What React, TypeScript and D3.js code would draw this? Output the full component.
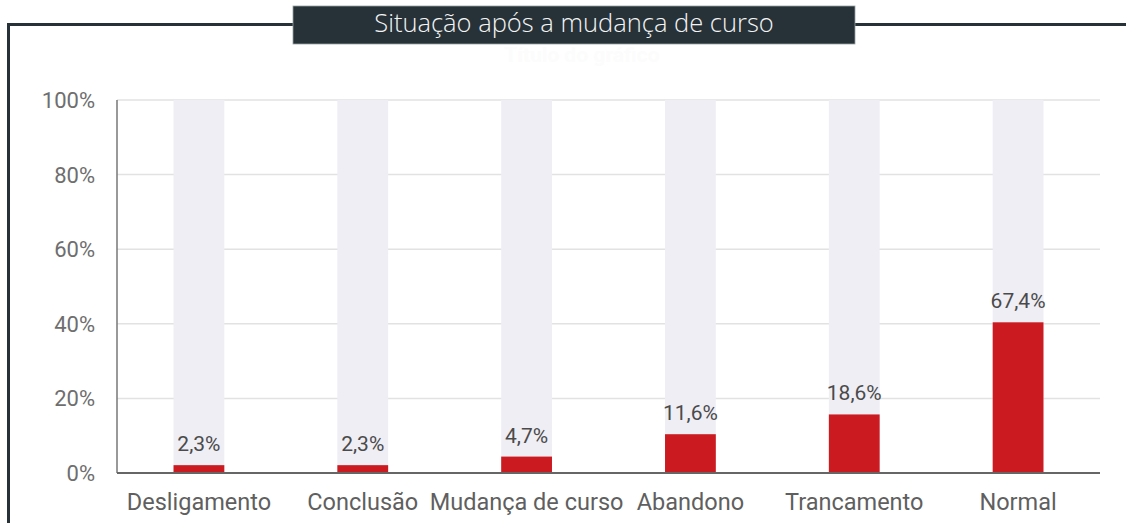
import React from "react";
import * as d3 from "d3";

const categories = ["Desligamento", "Conclusão", "Mudança de curso", "Abandono", "Trancamento", "Normal"];
const barValues = [2.1, 2.1, 4.4, 10.4, 15.7, 40.4];
const labelTexts = ["2,3%", "2,3%", "4,7%", "11,6%", "18,6%", "67,4%"];
const yTicks = [0, 20, 40, 60, 80, 100];
const title = "Situação após a mudança de curso";
const ghostTitle = "Título do gráfico";

const W = 1126;
const H = 523;
const left = 117;
const right = 1100;
const top = 100;
const bottom = 473;

export default function App() {
  const x = d3.scaleBand<string>().domain(categories).range([left, right]).paddingInner(0.69).paddingOuter(0.345);
  const y = d3.scaleLinear().domain([0, 100]).range([bottom, top]);
  const font = "Roboto, 'Noto Sans', sans-serif";
  return (
    <svg width={W} height={H} style={{ position: "absolute", left: 0, top: 0, background: "#fff" }}>
      <rect x={0} y={0} width={W} height={H} fill="#fff" />
      {/* frame */}
      <line x1={7} x2={W} y1={24.5} y2={24.5} stroke="#263238" strokeWidth={3} />
      <line x1={8.5} x2={8.5} y1={23} y2={H} stroke="#263238" strokeWidth={3} />
      <rect x={293} y={6} width={562} height={38} fill="#263238" stroke="#9aa0a3" strokeWidth={0.8} />
      <text x={574} y={32} textAnchor="middle" fill="#f4f4f4" fontFamily="'Open Sans', sans-serif" fontSize={25.5} fontWeight={300}>
        {title}
      </text>
      <text x={582} y={62} textAnchor="middle" fill="#fcfcfc" fontFamily={font} fontSize={21} fontWeight={700}>
        {ghostTitle}
      </text>
      {/* grid */}
      {yTicks.map((t) => (
        <g key={t}>
          {t > 0 && <line x1={left} x2={right} y1={y(t)} y2={y(t)} stroke="#e2e2e2" strokeWidth={1.5} />}
          <text x={95} y={y(t)} dy="0.36em" textAnchor="end" fill="#6e6e6e" fontFamily={font} fontSize={22}>
            {t}%
          </text>
        </g>
      ))}
      {/* background bars */}
      {categories.map((c) => (
        <rect key={"bg" + c} x={x(c)} y={y(100)} width={x.bandwidth()} height={y(0) - y(100)} fill="#efeef5" />
      ))}
      {/* value bars */}
      {categories.map((c, i) => (
        <rect key={"v" + c} x={x(c)} y={y(barValues[i])} width={x.bandwidth()} height={y(0) - y(barValues[i])} fill="#cb1a20" />
      ))}
      {categories.map((c, i) => (
        <text
          key={"l" + c}
          x={(x(c) as number) + x.bandwidth() / 2}
          y={y(barValues[i]) - 14}
          textAnchor="middle"
          fill="#4a4a4a"
          fontFamily={font}
          fontSize={21}
        >
          {labelTexts[i]}
        </text>
      ))}
      {/* axes */}
      <line x1={left} x2={left} y1={top} y2={bottom} stroke="#777" strokeWidth={1.5} />
      <line x1={left} x2={right} y1={bottom} y2={bottom} stroke="#666" strokeWidth={2} />
      {categories.map((c) => (
        <text
          key={"c" + c}
          x={(x(c) as number) + x.bandwidth() / 2}
          y={510}
          textAnchor="middle"
          fill="#5f5f5f"
          fontFamily={font}
          fontSize={23.5}
        >
          {c}
        </text>
      ))}
    </svg>
  );
}
